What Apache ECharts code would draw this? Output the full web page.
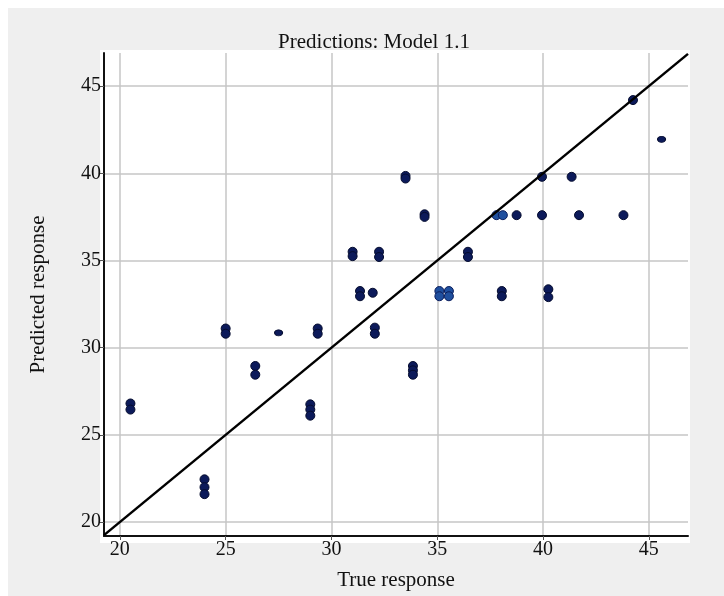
<!DOCTYPE html>
<html>
<head>
<meta charset="utf-8">
<script src="https://cdn.jsdelivr.net/npm/echarts@6/dist/echarts.min.js"></script>
<style>
html,body{margin:0;padding:0;background:#ffffff;}
#chart{width:724px;height:596px;}
</style>
</head>
<body>
<div id="chart"></div>
<script>
// ---- data ----
const titleText = 'Predictions: Model 1.1';
const xName = 'True response';
const yName = 'Predicted response';
const trueVals = [
  20.5, 20.5,
  24.0, 24.0, 24.0,
  25.0, 25.0,
  26.4, 26.4,
  27.5,
  29.0, 29.0, 29.0,
  29.35, 29.35,
  31.0, 31.0,
  31.35, 31.35,
  31.95,
  32.05, 32.05,
  32.25, 32.25,
  33.5, 33.5,
  33.85, 33.85, 33.85,
  34.4, 34.4,
  35.1, 35.1,
  35.55, 35.55,
  36.45, 36.45,
  37.8, 38.1,
  38.05, 38.05,
  38.75,
  39.95, 39.95,
  40.25, 40.25,
  41.35, 41.7, 43.8,
  44.25, 45.6
];
const predVals = [
  26.8, 26.45,
  22.45, 22.0, 21.6,
  31.1, 30.8,
  28.95, 28.45,
  30.85,
  26.75, 26.45, 26.1,
  31.1, 30.8,
  35.5, 35.25,
  33.25, 32.95,
  33.15,
  31.15, 30.8,
  35.5, 35.2,
  39.85, 39.7,
  28.95, 28.7, 28.45,
  37.65, 37.5,
  33.25, 32.95,
  33.25, 32.95,
  35.5, 35.2,
  37.6, 37.6,
  33.25, 32.95,
  37.6,
  39.8, 37.6,
  33.35, 32.9,
  39.8, 37.6, 37.6,
  44.2, 41.95
];
const highlightIdx = [31, 32, 33, 34, 37, 38]; // lighter-blue blobs
const smallIdx = [9, 50];                     // flattened small markers
const xRange = [19.25, 46.85];
const yRange = [19.2, 46.9];
const diagonal = [19.25, 46.85];

// ---- build ----
const pts = trueVals.map((x, i) => {
  const item = { value: [x, predVals[i]] };
  if (highlightIdx.indexOf(i) >= 0) item.itemStyle = { color: '#1f4f9e', borderColor: '#0b1d5c' };
  if (smallIdx.indexOf(i) >= 0) item.symbolSize = [8, 6];
  return item;
});
const lineData = diagonal.map(v => [v, v]);

const serif = 'Liberation Serif';
const chart = echarts.init(document.getElementById('chart'), null, { renderer: 'canvas' });
chart.setOption({
  backgroundColor: '#ffffff',
  animation: false,
  graphic: [{
    type: 'rect', z: -10, silent: true,
    shape: { x: 8, y: 8, width: 716, height: 588 },
    style: { fill: '#efefef' }
  }, {
    type: 'rect', z: -9, silent: true,
    shape: { x: 100, y: 50, width: 590, height: 493 },
    style: { fill: '#ffffff' }
  }],
  title: {
    text: titleText,
    left: 369, top: 27,
    textAlign: 'center',
    textStyle: { fontFamily: serif, fontSize: 21, fontWeight: 'normal', color: '#111' }
  },
  grid: { left: 104, top: 53, width: 584, height: 487, containLabel: false },
  xAxis: {
    type: 'value', min: xRange[0], max: xRange[1],
    name: xName, nameLocation: 'middle', nameGap: 34,
    nameTextStyle: { fontFamily: serif, fontSize: 21, color: '#111' },
    axisLine: { show: true, onZero: false, lineStyle: { color: '#111', width: 2 } },
    axisTick: { show: true, length: 4, lineStyle: { color: '#555' } },
    axisLabel: { fontFamily: serif, fontSize: 20, color: '#111', margin: 4, showMinLabel: false, showMaxLabel: false },
    splitLine: { show: true, showMinLine: false, showMaxLine: false, lineStyle: { color: '#c6c6c6', width: 1.5 } }
  },
  yAxis: {
    type: 'value', min: yRange[0], max: yRange[1],
    name: yName, nameLocation: 'middle', nameGap: 55,
    nameTextStyle: { fontFamily: serif, fontSize: 21, color: '#111' },
    axisLine: { show: true, onZero: false, lineStyle: { color: '#111', width: 2 } },
    axisTick: { show: true, length: 4, lineStyle: { color: '#555' } },
    axisLabel: { fontFamily: serif, fontSize: 20, color: '#111', margin: 3, showMinLabel: false, showMaxLabel: false },
    splitLine: { show: true, showMinLine: false, showMaxLine: false, lineStyle: { color: '#c6c6c6', width: 1.5 } }
  },
  series: [{
    type: 'scatter',
    data: pts,
    symbol: 'circle',
    symbolSize: 9,
    itemStyle: { color: '#0c1a5a', borderColor: '#050c2e', borderWidth: 1, opacity: 1 },
    z: 2
  }, {
    type: 'line',
    data: lineData,
    symbol: 'none',
    lineStyle: { color: '#000', width: 2.5 },
    z: 3
  }]
});
</script>
</body>
</html>
